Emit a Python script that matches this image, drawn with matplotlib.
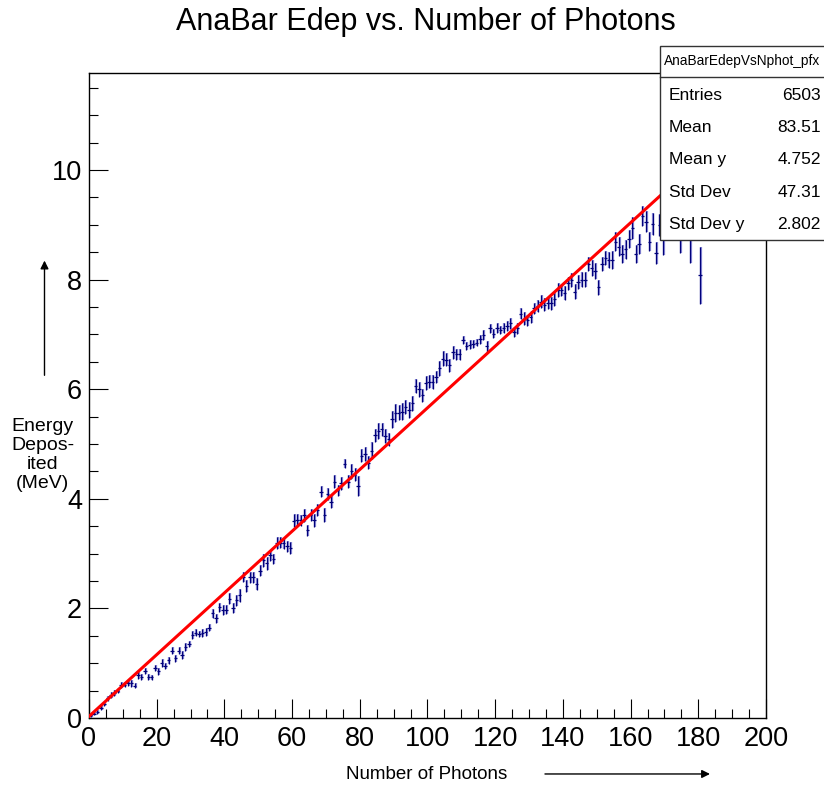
import matplotlib
matplotlib.use("Agg")
import matplotlib.pyplot as plt
import numpy as np
from matplotlib.patches import Rectangle
from matplotlib.lines import Line2D
from matplotlib.ticker import MultipleLocator

plt.rcParams["font.family"] = ["Liberation Sans", "DejaVu Sans"]

nan = np.nan

# profile of Edep vs Nphot, one bin per photon count (bins 0..180)
edep_mean = [
    0.05, 0.08, 0.11, 0.19, 0.26, 0.36, 0.42, 0.46, 0.50, 0.60,
    0.61, 0.64, 0.63, 0.59, 0.78, 0.75, 0.86, 0.75, 0.74, 0.91,
    0.85, 1.00, 0.95, 1.05, 1.23, 1.09, 1.23, 1.15, 1.30, 1.35,
    1.51, 1.56, 1.53, 1.55, 1.57, 1.65, 1.91, 1.82, 2.02, 1.97,
    1.98, 2.18, 2.00, 2.15, 2.24, 2.58, 2.41, 2.57, 2.57, 2.45,
    2.69, 2.88, 2.82, 2.97, 2.90, 3.20, 3.20, 3.19, 3.13, 3.11,
    3.60, 3.61, 3.61, 3.70, 3.43, 3.70, 3.61, 3.80, 4.13, 3.70,
    4.09, 3.95, 4.31, 4.16, 4.28, 4.64, 4.31, 4.50, 4.44, 4.24,
    4.79, 4.82, 4.66, 4.88, 5.16, 5.24, 5.27, 5.15, 5.09, 5.45,
    5.57, 5.57, 5.59, 5.67, 5.62, 5.74, 6.06, 6.00, 5.89, 6.12,
    6.14, 6.13, 6.23, 6.38, 6.56, 6.54, 6.44, 6.67, 6.64, 6.64,
    6.90, 6.79, 6.81, 6.82, 6.85, 6.91, 6.99, 6.78, 7.11, 7.01,
    7.11, 7.08, 7.11, 7.15, 7.20, 7.05, 7.11, 7.38, 7.29, 7.26,
    7.31, 7.48, 7.51, 7.60, 7.54, 7.57, 7.57, 7.64, 7.81, 7.81,
    7.75, 7.93, 7.99, 7.78, 7.96, 8.00, 8.00, 8.28, 8.21, 8.16,
    7.86, 8.28, 8.39, 8.36, 8.36, 8.69, 8.60, 8.47, 8.55, 8.74,
    8.95, 8.47, 8.65, 9.16, 9.06, 8.69, 9.01, 8.49, 9.00, 8.95,
    nan, nan, nan, nan, 9.05, nan, nan, 9.00, nan, nan,
    8.08,
]

edep_err = [
    0.03, 0.03, 0.04, 0.04, 0.04, 0.05, 0.05, 0.05, 0.05, 0.05,
    0.05, 0.05, 0.06, 0.05, 0.06, 0.05, 0.06, 0.06, 0.05, 0.06,
    0.06, 0.07, 0.06, 0.07, 0.07, 0.06, 0.07, 0.07, 0.07, 0.06,
    0.07, 0.07, 0.06, 0.07, 0.07, 0.07, 0.08, 0.08, 0.08, 0.09,
    0.09, 0.10, 0.09, 0.10, 0.12, 0.09, 0.11, 0.10, 0.10, 0.11,
    0.10, 0.12, 0.11, 0.10, 0.09, 0.11, 0.10, 0.10, 0.10, 0.11,
    0.12, 0.11, 0.10, 0.12, 0.10, 0.11, 0.12, 0.11, 0.10, 0.13,
    0.11, 0.12, 0.12, 0.10, 0.12, 0.08, 0.12, 0.13, 0.12, 0.18,
    0.12, 0.13, 0.12, 0.15, 0.12, 0.14, 0.12, 0.13, 0.12, 0.15,
    0.16, 0.14, 0.15, 0.13, 0.14, 0.13, 0.12, 0.14, 0.12, 0.13,
    0.12, 0.13, 0.11, 0.13, 0.13, 0.12, 0.12, 0.11, 0.10, 0.10,
    0.08, 0.07, 0.08, 0.07, 0.07, 0.08, 0.09, 0.10, 0.08, 0.08,
    0.09, 0.08, 0.09, 0.09, 0.10, 0.09, 0.10, 0.10, 0.11, 0.10,
    0.11, 0.10, 0.11, 0.12, 0.12, 0.11, 0.12, 0.12, 0.13, 0.11,
    0.13, 0.12, 0.13, 0.14, 0.13, 0.13, 0.14, 0.13, 0.14, 0.15,
    0.14, 0.13, 0.13, 0.15, 0.16, 0.17, 0.17, 0.16, 0.18, 0.16,
    0.20, 0.17, 0.18, 0.18, 0.19, 0.17, 0.20, 0.20, 0.20, 0.50,
    nan, nan, nan, nan, 0.57, nan, nan, 0.70, nan, nan,
    0.52,
]

# pol1 fit
fit_p0 = 0.03
fit_p1 = 0.0563
fit_range = (0.0, 182.0)

stat_names = ["Entries", "Mean", "Mean y", "Std Dev", "Std Dev y"]
stat_values = ["6503", "83.51", "4.752", "47.31", "2.802"]

nphot = np.arange(len(edep_mean)) + 0.5
edep_mean = np.array(edep_mean)
edep_err = np.array(edep_err)

fig = plt.figure(figsize=(8.24, 7.86), dpi=100)
ax = fig.add_axes([0.108, 0.0865, 0.8216, 0.8206])

# soft blue halo under each error bar, then the dark bar itself
ax.errorbar(nphot + 0.25, edep_mean, yerr=edep_err, fmt="none",
            ecolor="#6f6fcf", elinewidth=1.6, alpha=0.8, zorder=2)
ax.errorbar(nphot, edep_mean, yerr=edep_err, xerr=0.5, fmt="none",
            ecolor="#00007a", elinewidth=0.9, zorder=3)

xf = np.linspace(fit_range[0], fit_range[1], 50)
ax.plot(xf, fit_p0 + fit_p1 * xf, color="#ff0000", lw=2.2, zorder=4)

ax.set_xlim(0, 200)
ax.set_ylim(0, 11.77)
ax.xaxis.set_major_locator(MultipleLocator(20))
ax.xaxis.set_minor_locator(MultipleLocator(5))
ax.yaxis.set_major_locator(MultipleLocator(2))
ax.yaxis.set_minor_locator(MultipleLocator(0.5))
ax.tick_params(which="major", direction="in", length=13.5, width=0.8,
               labelsize=19.5, colors="black")
ax.tick_params(which="minor", direction="in", length=6.8, width=0.8)
ax.tick_params(axis="x", pad=6)
ax.tick_params(axis="y", pad=5)
for s in ax.spines.values():
    s.set_linewidth(1.0)

fig.text(0.517, 0.972, "AnaBar Edep vs. Number of Photons",
         ha="center", va="center", fontsize=22)

fig.text(0.518, 0.014, "Number of Photons", ha="center", va="center",
         fontsize=13.5)
ax.annotate("", xy=(0.865, 0.0153), xytext=(0.658, 0.0153),
            xycoords="figure fraction", textcoords="figure fraction",
            arrowprops=dict(arrowstyle="-|>", color="black", lw=1.0,
                            mutation_scale=12))

fig.text(0.052, 0.421, "Energy\nDepos-\nited\n(MeV)", ha="center",
         va="center", fontsize=14, linespacing=1.15)
ax.annotate("", xy=(0.054, 0.672), xytext=(0.054, 0.519),
            xycoords="figure fraction", textcoords="figure fraction",
            arrowprops=dict(arrowstyle="-|>", color="black", lw=1.0,
                            mutation_scale=12))

# stats box
bx0, by0, by1 = 0.801, 0.6947, 0.9415
fig.add_artist(Rectangle((bx0, by0), 0.3, by1 - by0, transform=fig.transFigure,
                         facecolor="white", edgecolor="#333333", lw=1.0,
                         zorder=5))
fig.add_artist(Line2D([bx0, 1.0], [0.9020, 0.9020], transform=fig.transFigure,
                      color="#333333", lw=1.0, zorder=6))
fig.text(0.806, 0.9222, "AnaBarEdepVsNphot_pfx", ha="left", va="center",
         fontsize=9.8, zorder=7)
row_y = [0.8785, 0.838, 0.797, 0.7555, 0.715]
for name, val, yy in zip(stat_names, stat_values, row_y):
    fig.text(0.812, yy, name, ha="left", va="center", fontsize=12.5, zorder=7)
    fig.text(0.996, yy, val, ha="right", va="center", fontsize=12.5, zorder=7)

fig.savefig("out.png", dpi=100)
